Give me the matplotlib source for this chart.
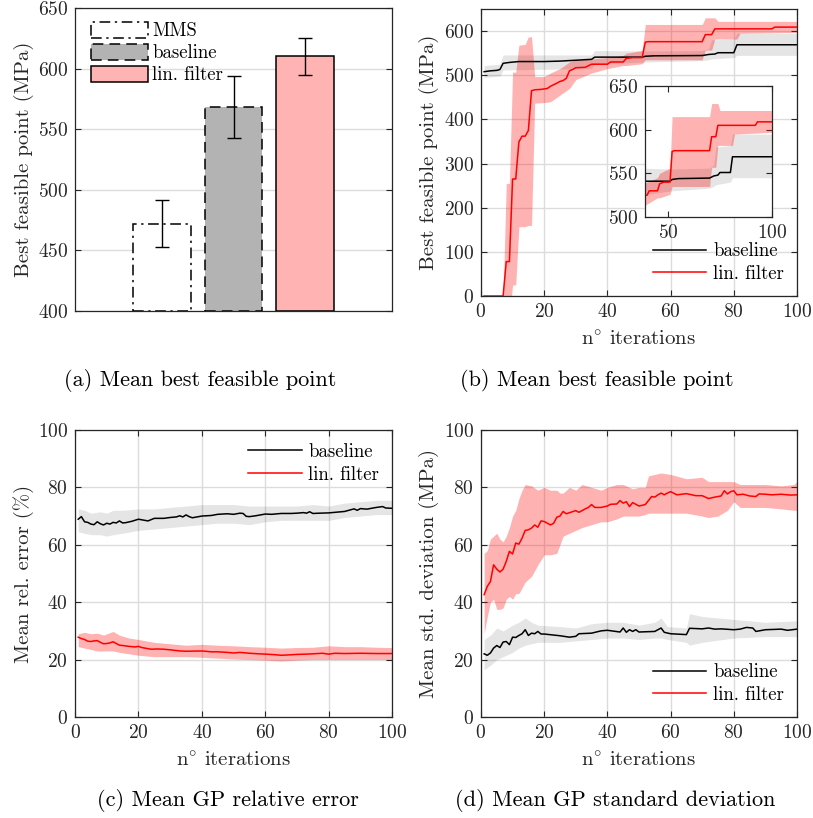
import numpy as np
import matplotlib.pyplot as plt
from matplotlib.patches import Patch

plt.rcParams['font.family'] = 'cmr10'
plt.rcParams['mathtext.fontset'] = 'cm'
plt.rcParams['axes.formatter.use_mathtext'] = True
plt.rcParams['axes.unicode_minus'] = False

GREY = '#262626'
RED_FILL = (1.0, 0.0, 0.0, 0.3)
GREY_FILL = (0.0, 0.0, 0.0, 0.1)

# ---- (a) bars ----
bar_labels = ['MMS', 'baseline', 'lin. filter']
bar_means = [472, 568.5, 610]
bar_errs = [19.5, 25.5, 15]

# ---- (b) best feasible point: (iteration, value) ----
b_base = [(1, 508), (3, 510), (5, 511), (6, 513), (7, 527), (9, 529), (12, 531), (20, 531),
          (25, 532), (30, 534), (35, 536), (36, 541), (51, 541), (52, 543), (55, 544),
          (70, 544.6), (72, 547), (74, 548), (75, 551), (80, 551), (81, 569), (100, 569)]
b_base_band = [(1, 495, 522), (6, 498, 525), (7, 512, 546), (35, 515, 546), (36, 525, 556),
               (52, 530, 555), (70, 533, 556), (72, 535, 560), (73, 537, 580), (80, 540, 582),
               (81, 545, 595), (100, 545, 595)]
b_lin = [(1, 0), (7, 0), (8, 78), (9, 78), (10, 265), (11, 265), (12, 349), (13, 362), (14, 362),
         (15, 375), (16, 465), (17, 467), (19, 468), (21, 470), (22, 475), (24, 482), (25, 486),
         (26, 488), (27, 493), (28, 510), (29, 513), (30, 517), (33, 518), (35, 525), (40, 525),
         (41, 530), (45, 530), (46, 538), (48, 540), (51, 540), (52, 575), (53, 576), (70, 576),
         (71, 592), (73, 592), (74, 605), (92, 605), (93, 609), (100, 609)]
b_lin_band = [(1, 0, 0), (7, 0, 0), (8, -50, 255), (9, -50, 255), (10, 25, 507), (11, 25, 507),
              (12, 157, 568), (14, 157, 570), (15, 160, 587), (16, 160, 587), (17, 437, 497),
              (20, 438, 497), (22, 440, 505), (25, 455, 515), (28, 470, 530), (30, 490, 535),
              (35, 505, 537), (40, 515, 540), (45, 522, 545), (46, 522, 550), (51, 526, 556),
              (52, 535, 615), (70, 535, 615), (71, 557, 630), (73, 557, 630), (74, 582, 630),
              (75, 582, 622), (81, 582, 622), (82, 595, 622), (100, 597, 622)]

# ---- (c) mean GP relative error ----
c_base = [(1, 68.9), (2, 69.8), (3, 68.0), (4, 67.8), (5, 67.2), (6, 67.0), (7, 68.0), (8, 67.3),
          (9, 66.9), (10, 67.5), (11, 67.2), (12, 67.8), (13, 67.6), (14, 68.3), (15, 67.6),
          (16, 67.7), (18, 68.2), (20, 68.9), (22, 68.5), (23, 68.3), (25, 69.2), (28, 69.2),
          (30, 69.5), (32, 69.7), (33, 70.1), (34, 69.7), (35, 70.4), (36, 69.8), (37, 69.4),
          (40, 70.0), (43, 70.2), (45, 70.6), (48, 70.8), (50, 70.6), (52, 71.0), (53, 70.9),
          (54, 69.9), (55, 69.8), (57, 70.1), (60, 70.7), (62, 70.6), (65, 70.9), (68, 70.9),
          (70, 71.0), (72, 71.2), (73, 71.0), (74, 71.5), (75, 70.9), (77, 71.0), (80, 71.1),
          (83, 71.4), (85, 71.6), (87, 72.2), (88, 72.5), (89, 72.0), (90, 72.6), (92, 72.4),
          (95, 73.0), (97, 73.3), (98, 72.8), (100, 72.7)]
c_base_band = [(1, 64.5, 72.5), (3, 64, 72), (5, 63.5, 71), (8, 63.5, 71.5), (10, 63, 71),
               (12, 63.5, 72), (15, 64, 72), (20, 65, 72.5), (25, 65.5, 72.5), (30, 66, 73),
               (35, 66.5, 73.5), (40, 67, 74), (45, 67.5, 74), (50, 67.5, 74), (55, 67, 73.5),
               (60, 68, 73.5), (65, 68.5, 73.5), (70, 68.5, 73.5), (75, 68.5, 74), (80, 68.5, 73.5),
               (85, 69.5, 74.5), (90, 70, 75), (95, 70.5, 75.5), (100, 70.5, 75.5)]
c_lin = [(1, 27.8), (2, 27.3), (3, 27.0), (4, 26.4), (5, 26.3), (6, 26.5), (7, 26.6), (8, 26.0),
         (9, 25.5), (10, 25.6), (11, 25.8), (12, 26.2), (13, 25.6), (14, 25.0), (15, 24.9),
         (17, 24.6), (19, 24.4), (20, 24.6), (21, 24.2), (23, 23.8), (24, 23.6), (26, 23.7),
         (28, 23.6), (30, 23.4), (33, 23.0), (35, 22.9), (40, 23.0), (43, 22.7), (45, 22.7),
         (48, 22.5), (50, 22.3), (52, 22.5), (55, 22.2), (58, 22.0), (60, 21.9), (63, 21.7),
         (65, 21.5), (67, 21.6), (70, 21.8), (73, 21.9), (75, 22.0), (78, 22.2), (80, 21.9),
         (82, 22.2), (85, 22.1), (90, 22.2), (95, 22.1), (100, 22.1)]
c_lin_band = [(1, 24.5, 29), (3, 24, 29.5), (5, 23.5, 29), (7, 23, 29.2), (9, 23, 28.5),
              (12, 23, 29.8), (14, 22.5, 28.5), (17, 22, 27.5), (20, 21.5, 27), (25, 21, 26),
              (30, 21, 25.5), (35, 21, 25), (40, 20.8, 25.3), (45, 20.5, 25), (50, 20.2, 24.8),
              (55, 20, 24.5), (60, 19.8, 24.3), (65, 19.5, 24), (70, 19.8, 24.2), (75, 20, 24.3),
              (80, 20, 24.8), (85, 20, 24.5), (90, 20, 24.5), (95, 20, 24.3), (100, 20, 24.2)]

# ---- (d) mean GP standard deviation ----
d_base = [(1, 22.0), (2, 21.5), (3, 22.3), (4, 24.0), (5, 24.9), (6, 24.2), (7, 26.1), (8, 26.3),
          (9, 25.2), (10, 27.8), (11, 27.7), (12, 28.4), (13, 29.0), (14, 30.4), (15, 28.4),
          (16, 29.2), (17, 29.0), (18, 29.8), (19, 28.9), (20, 28.9), (25, 28.3), (28, 27.8),
          (30, 28.1), (31, 29.0), (35, 29.2), (38, 30.0), (40, 30.2), (42, 29.9), (44, 29.6),
          (45, 31.0), (46, 29.5), (47, 30.4), (48, 29.8), (49, 30.4), (50, 29.6), (55, 29.8),
          (57, 31.0), (58, 29.5), (60, 29.0), (65, 28.7), (66, 30.9), (70, 30.7), (72, 31.0),
          (74, 30.6), (76, 30.7), (80, 30.4), (82, 30.6), (84, 31.2), (86, 31.0), (87, 29.8),
          (90, 30.4), (95, 30.6), (97, 30.2), (100, 30.6)]
d_base_band = [(1, 16.5, 27), (3, 18, 28.5), (5, 20, 31), (7, 21, 30), (10, 22.5, 32),
               (12, 24, 33), (14, 25, 34.5), (16, 25.5, 33), (18, 26, 32), (25, 26, 31.5),
               (30, 26.5, 31), (35, 27, 32.5), (40, 27.5, 33), (45, 27.5, 33), (50, 27, 32),
               (55, 27.5, 33), (57, 27.5, 34.5), (59, 27, 31.5), (65, 26, 31), (66, 25, 36),
               (70, 26, 35), (80, 27.5, 34), (90, 28, 33), (100, 28, 33.5)]
d_lin = [(1, 42.6), (2, 45.5), (3, 47.2), (4, 53.0), (5, 51.5), (6, 50.5), (7, 51.5), (8, 54.2),
         (9, 57.7), (10, 56.8), (11, 60.6), (12, 60.2), (13, 62.3), (14, 65.0), (15, 65.2),
         (16, 65.8), (17, 66.9), (18, 66.1), (19, 68.3), (20, 68.1), (22, 66.9), (23, 67.5),
         (24, 69.6), (25, 70.0), (26, 71.6), (27, 70.8), (30, 71.9), (31, 71.3), (33, 72.5),
         (34, 73.0), (35, 74.0), (36, 73.0), (38, 73.0), (40, 73.5), (41, 74.1), (43, 74.2),
         (44, 75.4), (45, 74.5), (46, 75.0), (47, 73.3), (48, 74.7), (50, 73.5), (52, 74.0),
         (53, 75.4), (54, 76.8), (55, 76.6), (56, 77.4), (57, 78.0), (58, 77.4), (59, 78.0),
         (60, 78.5), (62, 77.4), (65, 77.8), (68, 77.1), (70, 77.1), (72, 76.1), (74, 76.6),
         (76, 77.0), (77, 78.8), (78, 77.7), (79, 78.5), (80, 78.8), (81, 77.4), (83, 77.6),
         (85, 77.0), (87, 76.8), (88, 77.7), (90, 77.6), (92, 77.4), (95, 77.6), (98, 77.3),
         (100, 77.4)]
d_lin_band = [(1, 29, 57), (2, 35, 58), (3, 40, 62), (4, 41, 63), (5, 37.5, 64), (6, 37.5, 62),
              (7, 38, 61), (8, 41, 63), (9, 42, 66), (10, 41, 70), (11, 43, 72), (12, 43, 76),
              (13, 45, 79), (14, 47, 81), (16, 49, 80.5), (18, 53, 79), (20, 56.5, 80),
              (22, 56.5, 79), (24, 57, 79), (25, 60, 78), (26, 63, 78), (28, 64, 80), (30, 65, 79),
              (32, 66, 81), (35, 67, 80), (38, 68, 79), (40, 68, 80), (43, 69, 81), (45, 70, 81),
              (48, 70, 79.5), (50, 70, 80), (52, 70.5, 80), (53, 71, 84), (57, 71, 85),
              (60, 71, 84.5), (65, 71, 83), (70, 70, 83.5), (72, 69.5, 82), (75, 70, 82),
              (78, 72, 82), (80, 75, 82), (82, 73, 81), (85, 73, 81), (90, 73, 81),
              (95, 72.5, 80.5), (99, 72, 81), (100, 72, 82)]

TICK_FS = 14
LABEL_FS = 15
LEG_FS = 13.5


def style_ax(ax, fs=TICK_FS):
    ax.tick_params(direction='in', top=True, right=True, labelsize=fs, colors=GREY,
                   length=4, width=0.8, pad=5)
    for s in ax.spines.values():
        s.set_color(GREY)
        s.set_linewidth(0.9)
    ax.grid(True, color='#dcdcdc', linewidth=1.0)
    ax.set_axisbelow(True)


def draw_series(ax, base, base_band, lin, lin_band):
    bx, blo, bhi = zip(*base_band)
    lx, llo, lhi = zip(*lin_band)
    ax.fill_between(bx, blo, bhi, color=GREY_FILL, linewidth=0)
    ax.fill_between(lx, llo, lhi, color=RED_FILL, linewidth=0)
    x, y = zip(*base)
    ax.plot(x, y, color='black', lw=1.1, label='baseline')
    x, y = zip(*lin)
    ax.plot(x, y, color='red', lw=1.1, label='lin. filter')


def line_legend(ax, loc):
    ax.legend(loc=loc, frameon=False, fontsize=LEG_FS, handlelength=2.85,
              labelspacing=0.25, handletextpad=0.35, borderaxespad=0.3)


fig = plt.figure(figsize=(8.13, 8.18), dpi=100)

# (a)
ax_a = fig.add_axes([0.0923, 0.6198, 0.39, 0.3704])
style_ax(ax_a)
ax_a.grid(False)
ax_a.yaxis.grid(True, color='#dcdcdc', linewidth=1.0)
pos = [1, 2, 3]
faces = ['white', '#b3b3b3', '#ffb3b3']
styles = [(0, (7, 3, 1.5, 3)), (0, (7, 4)), '-']
for p, m, e, fc, ls, lab in zip(pos, bar_means, bar_errs, faces, styles, bar_labels):
    ax_a.bar(p, m - 400, bottom=400, width=0.81, facecolor=fc, edgecolor='black',
             linestyle=ls, linewidth=1.1, label=lab)
    ax_a.errorbar(p, m, yerr=e, color='black', capsize=5, lw=1.0, capthick=1.0)
ax_a.set_xlim(-0.22, 4.22)
ax_a.set_ylim(400, 650)
ax_a.set_xticks([])
ax_a.set_ylabel('Best feasible point (MPa)', fontsize=LABEL_FS, color=GREY, labelpad=3)
handles = [Patch(facecolor=fc, edgecolor='black', linestyle=ls, linewidth=1.1)
           for fc, ls in zip(faces, styles)]
ax_a.legend(handles, bar_labels, loc='upper left', frameon=False, fontsize=LEG_FS,
            handlelength=3.0, handleheight=0.95, labelspacing=0.18, handletextpad=0.25,
            borderaxespad=0.25, bbox_to_anchor=(0.013, 0.995))

# (b)
ax_b = fig.add_axes([0.5916, 0.6381, 0.3887, 0.3509])
style_ax(ax_b)
draw_series(ax_b, b_base, b_base_band, b_lin, b_lin_band)
ax_b.set_xlim(0, 100)
ax_b.set_ylim(0, 650)
ax_b.set_xticks([0, 20, 40, 60, 80, 100])
ax_b.set_yticks([0, 100, 200, 300, 400, 500, 600])
ax_b.set_ylabel('Best feasible point (MPa)', fontsize=LABEL_FS, color=GREY, labelpad=3)
ax_b.set_xlabel(r'n$^{\circ}$ iterations', fontsize=LABEL_FS, color=GREY, labelpad=7)
line_legend(ax_b, 'lower right')

ax_in = fig.add_axes([0.7934, 0.7347, 0.1562, 0.1601])
style_ax(ax_in)
ax_in.grid(False)
draw_series(ax_in, b_base, b_base_band, b_lin, b_lin_band)
ax_in.set_xlim(39, 100)
ax_in.set_ylim(500, 650)
ax_in.set_xticks([50, 100])
ax_in.set_yticks([500, 550, 600, 650])

# (c)
ax_c = fig.add_axes([0.0923, 0.1235, 0.39, 0.3509])
style_ax(ax_c)
draw_series(ax_c, c_base, c_base_band, c_lin, c_lin_band)
ax_c.set_xlim(0, 100)
ax_c.set_ylim(0, 100)
ax_c.set_xticks([0, 20, 40, 60, 80, 100])
ax_c.set_ylabel('Mean rel. error (%)', fontsize=LABEL_FS, color=GREY, labelpad=3)
ax_c.set_xlabel(r'n$^{\circ}$ iterations', fontsize=LABEL_FS, color=GREY, labelpad=7)
line_legend(ax_c, 'upper right')

# (d)
ax_d = fig.add_axes([0.5916, 0.1235, 0.3887, 0.3509])
style_ax(ax_d)
draw_series(ax_d, d_base, d_base_band, d_lin, d_lin_band)
ax_d.set_xlim(0, 100)
ax_d.set_ylim(0, 100)
ax_d.set_xticks([0, 20, 40, 60, 80, 100])
ax_d.set_ylabel('Mean std. deviation (MPa)', fontsize=LABEL_FS, color=GREY, labelpad=3)
ax_d.set_xlabel(r'n$^{\circ}$ iterations', fontsize=LABEL_FS, color=GREY, labelpad=7)
line_legend(ax_d, 'lower right')

# captions
fig.text(200 / 813, 1 - 381 / 818, '(a) Mean best feasible point', ha='center', va='center', fontsize=16)
fig.text(597 / 813, 1 - 381 / 818, '(b) Mean best feasible point', ha='center', va='center', fontsize=16)
fig.text(228 / 813, 1 - 800 / 818, '(c) Mean GP relative error', ha='center', va='center', fontsize=16)
fig.text(615 / 813, 1 - 800 / 818, '(d) Mean GP standard deviation', ha='center', va='center', fontsize=16)

fig.savefig('out.png', dpi=100)
